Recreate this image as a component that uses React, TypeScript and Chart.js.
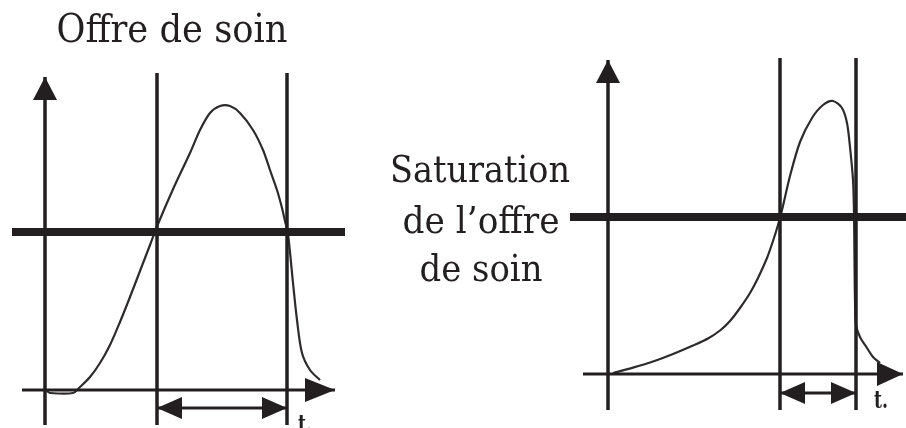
import React, { useEffect, useRef } from "react";
import { Chart, registerables } from "chart.js";

Chart.register(...registerables);

// ---------- Data (abstract units: time t, level v; origin at axes crossing) ----------
// Left panel: "Offre de soin"
const leftTitle = "Offre de soin";
const leftTime = [0.2, 0.5, 2.8, 3.5, 4.5, 5.5, 6.5, 7.5, 8.5, 9.5, 10.5, 11.3, 12.9, 14.5, 15.5, 16.5, 17.5, 18.5, 19.5, 20.8, 21.8, 22.5, 23.2, 23.7, 24.0, 24.3, 24.8, 25.2, 25.7, 26.5, 27.5];
const leftLevel = [-0.1, -0.3, -0.3, 0.3, 1.3, 2.7, 4.5, 6.8, 9.3, 11.9, 14.5, 16.6, 20.3, 23.7, 26, 27.7, 28.4, 28.4, 27.7, 26, 24, 22, 20, 18.2, 16.9, 15.6, 10.7, 7.0, 3.7, 2.0, 1.0];
const leftMarkers = [11.2, 24.2]; // t1, t2
const leftThreshold = 15.8;

// Right panel: "Saturation de l'offre de soin"
const rightLabel = ["Saturation", "de l\u2019offre", "de soin"];
const rightTime = [0.5, 2.5, 4.5, 6.5, 8.5, 10.0, 11.2, 12.2, 13.2, 14.2, 15.0, 15.9, 16.5, 17.0, 17.4, 18.2, 19.2, 20.4, 21.5, 22.5, 23.4, 23.9, 24.2, 24.5, 24.6, 24.65, 24.7, 24.8, 25.2, 25.9, 26.5, 27.2];
const rightLevel = [0.1, 0.64, 1.25, 2.0, 2.85, 3.55, 4.35, 5.3, 6.6, 8.1, 9.6, 11.6, 13.3, 14.9, 16.4, 19.8, 23.2, 25.6, 26.9, 27.3, 26.6, 25.1, 22.7, 19.4, 16.1, 11.4, 7.4, 4.9, 3.7, 2.6, 1.7, 1.1];
const rightMarkers = [17.2, 24.8];
const rightThreshold = 15.7;

const axisLabel = "t.";

const INK = "#231f20";

type Pt = { x: number; y: number };

const arrowPlugin = {
  id: "arrowHeads",
  afterDatasetsDraw(chart: any) {
    const ctx = chart.ctx as CanvasRenderingContext2D;
    chart.data.datasets.forEach((ds: any, i: number) => {
      const spec = ds.arrow;
      if (!spec) return;
      const pts = chart.getDatasetMeta(i).data as any[];
      if (pts.length < 2) return;
      const head = (tip: any, from: any) => {
        const dx = tip.x - from.x;
        const dy = tip.y - from.y;
        const len = Math.hypot(dx, dy) || 1;
        const ux = dx / len, uy = dy / len;
        const px = -uy, py = ux;
        const L = spec.length, W = spec.width / 2;
        const bx = tip.x - ux * L, by = tip.y - uy * L;
        ctx.save();
        ctx.fillStyle = INK;
        ctx.beginPath();
        ctx.moveTo(tip.x, tip.y);
        ctx.lineTo(bx + px * W, by + py * W);
        ctx.lineTo(bx - px * W, by - py * W);
        ctx.closePath();
        ctx.fill();
        ctx.restore();
      };
      if (spec.end) head(pts[pts.length - 1], pts[pts.length - 2]);
      if (spec.start) head(pts[0], pts[1]);
    });
  },
};

const textPlugin = {
  id: "textLabels",
  afterDraw(chart: any, _args: any, opts: any) {
    const items = (opts && opts.items) || [];
    const ctx = chart.ctx as CanvasRenderingContext2D;
    items.forEach((it: any) => {
      ctx.save();
      ctx.fillStyle = INK;
      ctx.font = `${it.weight || "normal"} ${it.size}px "DejaVu Serif", serif`;
      ctx.textBaseline = "alphabetic";
      ctx.textAlign = it.align || "center";
      const w = ctx.measureText(it.text).width;
      const sx = it.width ? it.width / w : 1;
      ctx.translate(it.x, it.y);
      ctx.scale(sx, 1);
      ctx.fillText(it.text, 0, 0);
      ctx.restore();
    });
  },
};

function line(points: Pt[], width: number, extra: any = {}) {
  return {
    data: points,
    borderColor: INK,
    borderWidth: width,
    pointRadius: 0,
    tension: 0,
    fill: false,
    ...extra,
  };
}

function buildConfig(p: {
  time: number[];
  level: number[];
  markers: number[];
  threshold: number;
  xMin: number;
  xMax: number;
  yMin: number;
  yMax: number;
  yAxisTop: number;
  axisBottom: number;
  xAxisLeft: number;
  xAxisRight: number;
  markerTop: number;
  threshLeft: number;
  threshRight: number;
  spanLevel: number;
  xArrowLen: number;
  texts: any[];
}) {
  const curve = p.time.map((t, i) => ({ x: t, y: p.level[i] }));
  const datasets: any[] = [
    line([{ x: 0, y: p.axisBottom }, { x: 0, y: p.yAxisTop }], 3.5, { arrow: { end: true, length: 23, width: 24 } }),
    line([{ x: p.xAxisLeft, y: 0 }, { x: p.xAxisRight, y: 0 }], 3, { arrow: { end: true, length: p.xArrowLen, width: 24 } }),
    ...p.markers.map((m) => line([{ x: m, y: p.axisBottom }, { x: m, y: p.markerTop }], 3.5)),
    line([{ x: p.threshLeft, y: p.threshold }, { x: p.threshRight, y: p.threshold }], 8),
    line([{ x: p.markers[0], y: p.spanLevel }, { x: p.markers[1], y: p.spanLevel }], 3, {
      arrow: { start: true, end: true, length: 25, width: 22 },
    }),
    {
      data: curve,
      borderColor: "#2e2b2b",
      borderWidth: 2.2,
      pointRadius: 0,
      tension: 0.3,
      fill: false,
    },
  ];
  return {
    type: "line" as const,
    data: { datasets },
    options: {
      animation: false as const,
      responsive: false,
      maintainAspectRatio: false,
      devicePixelRatio: 1,
      layout: { padding: 0 },
      parsing: false as const,
      normalized: true,
      events: [],
      scales: {
        x: { type: "linear" as const, min: p.xMin, max: p.xMax, display: false },
        y: { type: "linear" as const, min: p.yMin, max: p.yMax, display: false },
      },
      plugins: {
        legend: { display: false },
        tooltip: { enabled: false },
        textLabels: { items: p.texts },
      },
    },
    plugins: [arrowPlugin, textPlugin],
  };
}

function Panel(props: { width: number; left: number; config: any }) {
  const ref = useRef<HTMLCanvasElement | null>(null);
  useEffect(() => {
    if (!ref.current) return;
    const chart = new Chart(ref.current, props.config);
    return () => chart.destroy();
  }, []);
  return (
    <canvas
      ref={ref}
      width={props.width}
      height={428}
      style={{ position: "absolute", left: props.left, top: 0, width: props.width, height: 428 }}
    />
  );
}

export default function App() {
  const leftConfig = buildConfig({
    time: leftTime,
    level: leftLevel,
    markers: leftMarkers,
    threshold: leftThreshold,
    xMin: -4.5,
    xMax: 32.5,
    yMin: -3.8,
    yMax: 39,
    yAxisTop: 31.3,
    axisBottom: -3.5,
    xAxisLeft: -2.3,
    xAxisRight: 29,
    markerTop: 31.7,
    threshLeft: -3.3,
    threshRight: 30,
    spanLevel: -1.8,
    xArrowLen: 30,
    texts: [
      { text: leftTitle, x: 172, y: 42, size: 40, width: 231 },
      { text: axisLabel, x: 298, y: 432, size: 24, width: 14, align: "left", weight: "bold" },
    ],
  });
  const rightConfig = buildConfig({
    time: rightTime,
    level: rightLevel,
    markers: rightMarkers,
    threshold: rightThreshold,
    xMin: -23.8,
    xMax: 29.8,
    yMin: -5.4,
    yMax: 37.4,
    yAxisTop: 31.4,
    axisBottom: -3.6,
    xAxisLeft: -2.5,
    xAxisRight: 29.5,
    markerTop: 31.6,
    threshLeft: -3.8,
    threshRight: 30,
    spanLevel: -1.9,
    xArrowLen: 26,
    texts: [
      { text: rightLabel[0], x: 110, y: 182, size: 37, width: 180 },
      { text: rightLabel[1], x: 111, y: 233, size: 37, width: 157 },
      { text: rightLabel[2], x: 111, y: 281, size: 37, width: 123 },
      { text: axisLabel, x: 504, y: 408, size: 24, width: 14, align: "left", weight: "bold" },
    ],
  });
  return (
    <div style={{ position: "absolute", left: 0, top: 0, width: 906, height: 428, background: "#ffffff" }}>
      <Panel width={370} left={0} config={leftConfig} />
      <Panel width={536} left={370} config={rightConfig} />
    </div>
  );
}
